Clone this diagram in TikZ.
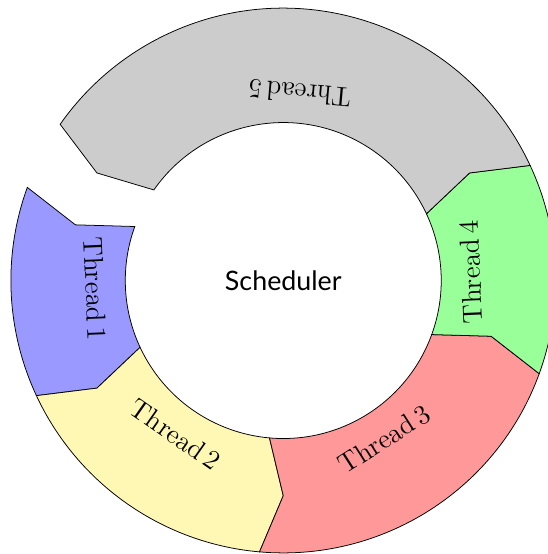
\documentclass[tikz,border=0pt]{standalone}
\usepackage{fontspec}
\newfontfamily\schedfont{Lato}
\definecolor{threadyellow}{RGB}{255,247,180}

\begin{document}
\begin{tikzpicture}[
    seg/.style={draw=black, line join=miter},
    lbl/.style={font=\fontsize{14.3}{17}\selectfont, inner sep=1pt}
  ]
    \useasboundingbox (-5.2,-5.02) rectangle (4.85,5.15);

    % thread slices, each one ends in a point and starts with a notch
    \filldraw[seg, fill=blue!40] (160:5) arc[start angle=160, end angle=205, radius=5] -- (210:3.95) -- (205:2.9) arc[start angle=205, end angle=160, radius=2.9] -- (165:3.95) -- cycle;
    \filldraw[seg, fill=threadyellow] (205:5) arc[start angle=205, end angle=265, radius=5] -- (270:3.95) -- (265:2.9) arc[start angle=265, end angle=205, radius=2.9] -- (210:3.95) -- cycle;
    \filldraw[seg, fill=red!40] (265:5) arc[start angle=265, end angle=340, radius=5] -- (345:3.95) -- (340:2.9) arc[start angle=340, end angle=265, radius=2.9] -- (270:3.95) -- cycle;
    \filldraw[seg, fill=green!40] (340:5) arc[start angle=340, end angle=385, radius=5] -- (390:3.95) -- (385:2.9) arc[start angle=385, end angle=340, radius=2.9] -- (345:3.95) -- cycle;
    \filldraw[seg, fill=gray!40] (25:5) arc[start angle=25, end angle=145, radius=5] -- (150:3.95) -- (145:2.9) arc[start angle=145, end angle=25, radius=2.9] -- (30:3.95) -- cycle;

    \node[lbl, rotate=272.5] (t1) at (182.5:3.45) {Thread\,1};
    \node[lbl, rotate=325] (t2) at (235:3.45) {Thread\,2};
    \node[lbl, rotate=32.5] (t3) at (302.5:3.45) {Thread\,3};
    \node[lbl, rotate=92.5] (t4) at (2.5:3.45) {Thread\,4};
    \node[lbl, rotate=175] (t5) at (85:3.45) {Thread\,5};

    \node[font=\schedfont\fontsize{14}{17}\selectfont] (sched) at (0,0) {Scheduler};
  \end{tikzpicture}
\end{document}
